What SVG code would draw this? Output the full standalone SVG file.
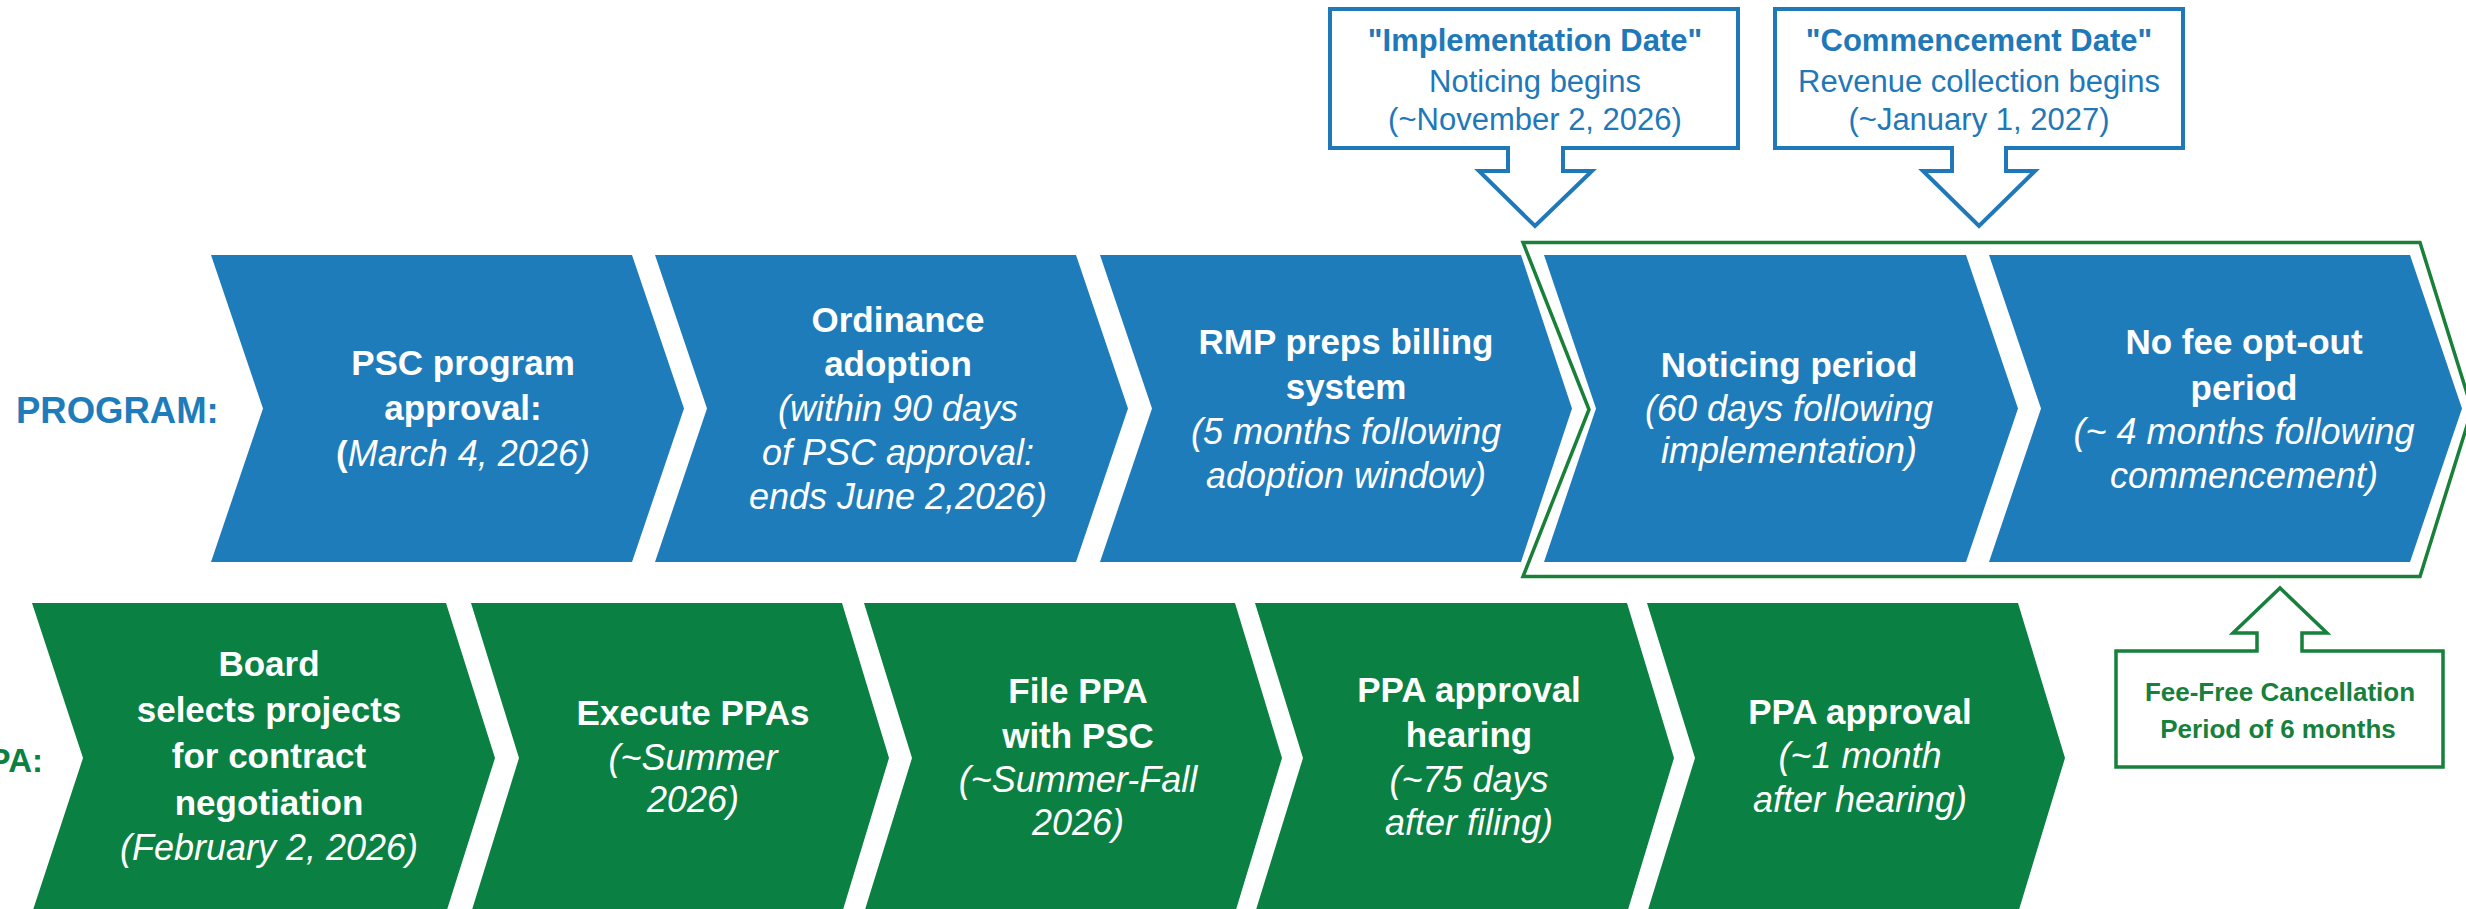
<svg xmlns="http://www.w3.org/2000/svg" width="2466" height="909" viewBox="0 0 2466 909">
<style>
.bl{fill:#1f7cba}
.gr{fill:#0a8042}
.t{font-family:'Liberation Sans',Arial,sans-serif;fill:#fff;text-anchor:middle}
.b{font-weight:bold;font-size:35px}
.i{font-style:italic;font-size:36px}
.lab{font-family:'Liberation Sans',Arial,sans-serif;font-weight:bold}
.co{fill:#fff;stroke:#1f78b8;stroke-width:4}
.cot{font-family:'Liberation Sans',Arial,sans-serif;fill:#1f78b8;text-anchor:middle;font-size:31px}
.gco{fill:#fff;stroke:#16803c;stroke-width:3.5}
.gcot{font-family:'Liberation Sans',Arial,sans-serif;fill:#16803c;text-anchor:middle;font-size:26px;font-weight:bold}
</style>
<rect width="2466" height="909" fill="#fff"/>
<text class="lab" x="16" y="423" font-size="36.5" fill="#1f7cba">PROGRAM:</text>
<text class="lab" x="43" y="772" font-size="33" fill="#0a8042" text-anchor="end">PPA:</text>

<g id="p1">
<path class="bl" d="M211,255 H632 L684,408.5 L632,562 H211 L263,408.5 Z"/>
<text class="t b" x="463" y="375">PSC program</text>
<text class="t b" x="463" y="420">approval:</text>
<text class="t" x="463" y="466"><tspan class="b">(</tspan><tspan class="i">March 4, 2026)</tspan></text>
</g>
<g id="p2">
<path class="bl" d="M655,255 H1076 L1128,408.5 L1076,562 H655 L707,408.5 Z"/>
<text class="t b" x="898" y="332">Ordinance</text>
<text class="t b" x="898" y="376">adoption</text>
<text class="t i" x="898" y="421">(within 90 days</text>
<text class="t i" x="898" y="465">of PSC approval:</text>
<text class="t i" x="898" y="509">ends June 2,2026)</text>
</g>
<g id="p3">
<path class="bl" d="M1100,255 H1521 L1572,408.5 L1521,562 H1100 L1152,408.5 Z"/>
<text class="t b" x="1346" y="354">RMP preps billing</text>
<text class="t b" x="1346" y="399">system</text>
<text class="t i" x="1346" y="444">(5 months following</text>
<text class="t i" x="1346" y="488">adoption window)</text>
</g>
<g id="p4">
<path class="bl" d="M1544,255 H1966 L2018,408.5 L1966,562 H1544 L1596,408.5 Z"/>
<text class="t b" x="1789" y="377">Noticing period</text>
<text class="t i" x="1789" y="421">(60 days following</text>
<text class="t i" x="1789" y="463">implementation)</text>
</g>
<g id="p5">
<path class="bl" d="M1989,255 H2410 L2462,408.5 L2410,562 H1989 L2041,408.5 Z"/>
<text class="t b" x="2244" y="354">No fee opt-out</text>
<text class="t b" x="2244" y="400">period</text>
<text class="t i" x="2244" y="444">(~ 4 months following</text>
<text class="t i" x="2244" y="488">commencement)</text>
</g>

<g id="g1">
<path class="gr" d="M32,603 H446 L495,758 L446,913 H32 L83,758 Z"/>
<text class="t b" x="269" y="676">Board</text>
<text class="t b" x="269" y="722">selects projects</text>
<text class="t b" x="269" y="768">for contract</text>
<text class="t b" x="269" y="815">negotiation</text>
<text class="t i" x="269" y="860">(February 2, 2026)</text>
</g>
<g id="g2">
<path class="gr" d="M471,603 H842 L889,758 L842,913 H471 L519,758 Z"/>
<text class="t b" x="693" y="725">Execute PPAs</text>
<text class="t i" x="693" y="770">(~Summer</text>
<text class="t i" x="693" y="812">2026)</text>
</g>
<g id="g3">
<path class="gr" d="M864,603 H1235 L1282,758 L1235,913 H864 L912,758 Z"/>
<text class="t b" x="1078" y="703">File PPA</text>
<text class="t b" x="1078" y="748">with PSC</text>
<text class="t i" x="1078" y="792">(~Summer-Fall</text>
<text class="t i" x="1078" y="835">2026)</text>
</g>
<g id="g4">
<path class="gr" d="M1255,603 H1627 L1674,758 L1627,913 H1255 L1303,758 Z"/>
<text class="t b" x="1469" y="702">PPA approval</text>
<text class="t b" x="1469" y="747">hearing</text>
<text class="t i" x="1469" y="792">(~75 days</text>
<text class="t i" x="1469" y="835">after filing)</text>
</g>
<g id="g5">
<path class="gr" d="M1647,603 H2018 L2065,758 L2018,913 H1647 L1695,758 Z"/>
<text class="t b" x="1860" y="724">PPA approval</text>
<text class="t i" x="1860" y="768">(~1 month</text>
<text class="t i" x="1860" y="812">after hearing)</text>
</g>

<g id="feefree-group">
<path d="M1523,242.5 H2420 L2472,409.5 L2420,576.5 H1523 L1589,409.5 Z" fill="none" stroke="#198039" stroke-width="3.5"/>
</g>

<g id="implementation">
<path class="co" d="M1330,9 H1738 V148 H1563 V171 H1592 L1535,226 L1479,171 H1508 V148 H1330 Z"/>
<text class="cot" x="1535" y="51" font-weight="bold">"Implementation Date"</text>
<text class="cot" x="1535" y="92">Noticing begins</text>
<text class="cot" x="1535" y="130">(~November 2, 2026)</text>
</g>
<g id="commencement">
<path class="co" d="M1775,9 H2183 V148 H2006 V171 H2035 L1979,226 L1923,171 H1952 V148 H1775 Z"/>
<text class="cot" x="1979" y="51" font-weight="bold">"Commencement Date"</text>
<text class="cot" x="1979" y="92">Revenue collection begins</text>
<text class="cot" x="1979" y="130">(~January 1, 2027)</text>
</g>
<g id="feefree">
<path class="gco" d="M2116,651 H2257 V633 H2233 L2280,588 L2327,633 H2302 V651 H2443 V767 H2116 Z"/>
<text class="gcot" x="2280" y="701">Fee-Free Cancellation</text>
<text class="gcot" x="2278" y="738">Period of 6 months</text>
</g>
<g id="connectors"></g>
</svg>
